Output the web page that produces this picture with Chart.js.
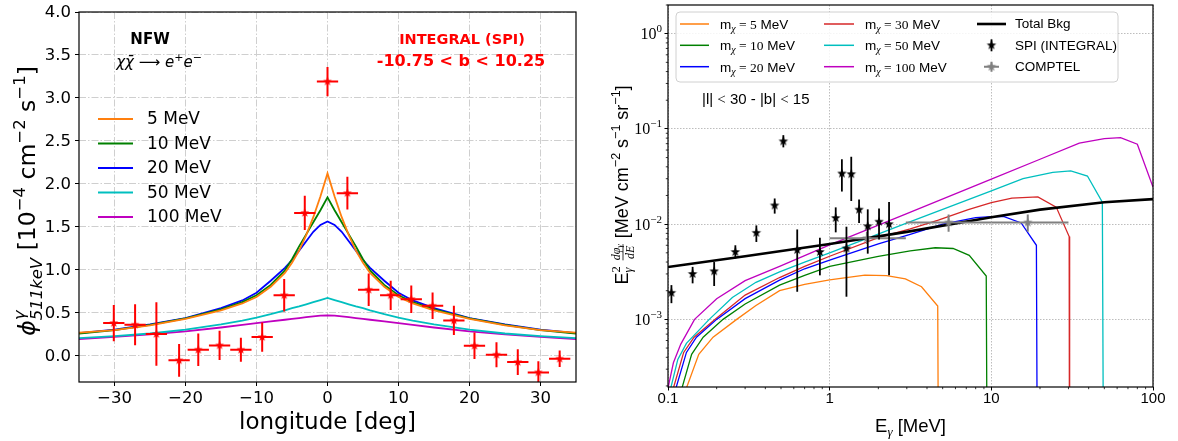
<!DOCTYPE html>
<html>
<head>
<meta charset="utf-8">
<script src="https://cdn.jsdelivr.net/npm/chart.js@4.4.1/dist/chart.umd.min.js"></script>
<style>
html, body { margin: 0; padding: 0; background: #fff; }
#wrap { position: relative; width: 1178px; height: 441px; }
#left { position: absolute; left: 0; top: 0; width: 590px; height: 441px; }
#right { position: absolute; left: 590px; top: 0; width: 588px; height: 441px; }
</style>
</head>
<body>
<div id="wrap">
  <canvas id="left" width="590" height="441"></canvas>
  <canvas id="right" width="588" height="441"></canvas>
</div>
<script>
// ---------- left panel: 511 keV longitude profile ----------
var lon     = [-30.1, -27.1, -24.1, -20.9, -18.2, -15.2, -12.2, -9.2, -6.1, -3.2, 0.0, 2.8, 5.8, 8.9, 11.8, 14.8, 17.8, 20.7, 23.8, 26.8, 29.7, 32.7];
var flux    = [0.376, 0.357, 0.248, -0.058, 0.066, 0.116, 0.066, 0.213, 0.70, 1.66, 3.19, 1.89, 0.764, 0.70, 0.655, 0.578, 0.407, 0.112, 0.008, -0.078, -0.198, -0.039];
var fluxErr = [0.21, 0.24, 0.37, 0.19, 0.19, 0.17, 0.14, 0.17, 0.19, 0.20, 0.17, 0.19, 0.19, 0.17, 0.16, 0.155, 0.17, 0.155, 0.145, 0.15, 0.13, 0.095];
var lonHalfBin = 1.5;

var profLon = [-35, -30, -25, -20, -15, -12, -10, -8, -6, -5, -4, -3, -2, -1, 0, 1, 2, 3, 4, 5, 6, 8, 10, 12, 15, 20, 25, 30, 35];
var prof5   = [0.265, 0.295, 0.35, 0.425, 0.525, 0.605, 0.68, 0.80, 0.96, 1.08, 1.22, 1.40, 1.61, 1.85, 2.12, 1.85, 1.61, 1.40, 1.22, 1.08, 0.96, 0.80, 0.68, 0.605, 0.525, 0.425, 0.35, 0.295, 0.265];
var prof10  = [0.255, 0.295, 0.355, 0.43, 0.535, 0.62, 0.70, 0.82, 0.99, 1.12, 1.27, 1.41, 1.55, 1.69, 1.84, 1.69, 1.55, 1.41, 1.27, 1.12, 0.99, 0.82, 0.70, 0.62, 0.535, 0.43, 0.355, 0.295, 0.255];
var prof20  = [0.26, 0.30, 0.36, 0.435, 0.55, 0.64, 0.73, 0.87, 1.02, 1.11, 1.22, 1.33, 1.44, 1.52, 1.56, 1.52, 1.44, 1.33, 1.22, 1.11, 1.02, 0.87, 0.73, 0.64, 0.55, 0.435, 0.36, 0.30, 0.26];
var prof50  = [0.20, 0.225, 0.255, 0.30, 0.36, 0.405, 0.44, 0.48, 0.525, 0.55, 0.57, 0.595, 0.62, 0.645, 0.67, 0.645, 0.62, 0.595, 0.57, 0.55, 0.525, 0.48, 0.44, 0.405, 0.36, 0.30, 0.255, 0.225, 0.20];
var prof100 = [0.19, 0.215, 0.245, 0.28, 0.325, 0.355, 0.375, 0.395, 0.415, 0.425, 0.435, 0.445, 0.455, 0.462, 0.467, 0.462, 0.455, 0.445, 0.435, 0.425, 0.415, 0.395, 0.375, 0.355, 0.325, 0.28, 0.245, 0.215, 0.19];
var profNames = ['5 MeV', '10 MeV', '20 MeV', '50 MeV', '100 MeV'];

var lonTicks  = [-30, -20, -10, 0, 10, 20, 30];
var fluxTicks = [0, 0.5, 1, 1.5, 2, 2.5, 3, 3.5, 4];

// ---------- right panel: spectrum ----------
var bkgE = [0.1, 0.3, 1, 3, 10, 20, 50, 100];
var bkgF = [3.55e-3, 4.6e-3, 6.2e-3, 8.3e-3, 1.18e-2, 1.42e-2, 1.7e-2, 1.83e-2];

var m5E   = [0.13, 0.155, 0.19, 0.266, 0.35, 0.49, 0.7, 1.0, 1.65, 2.25, 2.94, 3.7, 4.66, 4.75];
var m5F   = [1.9e-4, 4.3e-4, 6.5e-4, 1.0e-3, 1.4e-3, 2.0e-3, 2.33e-3, 2.6e-3, 2.92e-3, 2.88e-3, 2.66e-3, 2.2e-3, 1.38e-3, 1e-6];
var m10E  = [0.122, 0.14, 0.165, 0.219, 0.3, 0.49, 0.7, 1.0, 2.0, 3.15, 4.5, 5.8, 7.3, 9.3, 9.5];
var m10F  = [1.9e-4, 4.3e-4, 6.5e-4, 1.0e-3, 1.45e-3, 2.29e-3, 2.9e-3, 3.6e-3, 4.6e-3, 5.25e-3, 5.65e-3, 5.55e-3, 4.7e-3, 2.85e-3, 1e-6];
var m20E  = [0.112, 0.13, 0.15, 0.2, 0.3, 0.49, 0.7, 1.0, 2.0, 3.15, 5.0, 8.0, 10, 12, 15.3, 19, 19.4];
var m20F  = [1.9e-4, 4.5e-4, 6.5e-4, 1.0e-3, 1.65e-3, 2.58e-3, 3.4e-3, 4.2e-3, 6.2e-3, 7.8e-3, 1.0e-2, 1.17e-2, 1.2e-2, 1.2e-2, 1.03e-2, 6.0e-3, 1e-6];
var m30E  = [0.108, 0.125, 0.145, 0.195, 0.3, 0.49, 0.7, 1.0, 2.0, 3.15, 4.7, 7.2, 10, 13.4, 19.4, 25.2, 30.3, 30.5];
var m30F  = [1.9e-4, 4.5e-4, 6.5e-4, 1.0e-3, 1.8e-3, 2.75e-3, 3.6e-3, 4.6e-3, 7.2e-3, 8.9e-3, 1.1e-2, 1.42e-2, 1.68e-2, 1.88e-2, 1.93e-2, 1.51e-2, 7.4e-3, 1e-6];
var m50E  = [0.104, 0.115, 0.13, 0.18, 0.25, 0.35, 0.49, 0.7, 1.0, 3.1, 10, 15.7, 24, 31, 39.3, 48.6, 49.8];
var m50F  = [1.9e-4, 3.8e-4, 5.6e-4, 1.0e-3, 1.7e-3, 2.45e-3, 3.16e-3, 4.0e-3, 5.0e-3, 1.05e-2, 2.24e-2, 3.0e-2, 3.5e-2, 3.62e-2, 3.2e-2, 1.7e-2, 1e-6];
var m100E = [0.1, 0.108, 0.12, 0.146, 0.2, 0.3, 0.49, 1.0, 3.0, 10, 20, 35, 50, 63, 80, 100];
var m100F = [1.9e-4, 3.5e-4, 5.5e-4, 1.0e-3, 1.65e-3, 2.55e-3, 3.6e-3, 6.05e-3, 1.29e-2, 2.97e-2, 4.8e-2, 7.1e-2, 7.9e-2, 8.1e-2, 6.9e-2, 2.45e-2];

var spiE  = [0.105, 0.142, 0.193, 0.261, 0.352, 0.457, 0.517, 0.63, 0.87, 1.09, 1.19, 1.27, 1.36, 1.52, 1.72, 2.02, 2.33];
var spiF  = [1.9e-3, 3.0e-3, 3.2e-3, 5.1e-3, 8.1e-3, 1.57e-2, 7.4e-2, 5.35e-3, 5.1e-3, 1.16e-2, 3.4e-2, 5.55e-3, 3.35e-2, 1.42e-2, 9.5e-3, 1.06e-2, 1.0e-2];
var spiLo = [1.48e-3, 2.39e-3, 2.24e-3, 4.36e-3, 6.5e-3, 1.29e-2, 6.4e-2, 1.95e-3, 2.9e-3, 8.2e-3, 2.2e-2, 1.73e-3, 1.75e-2, 1.03e-2, 4.9e-3, 6.9e-3, 2.9e-3];
var spiHi = [2.29e-3, 3.56e-3, 4.0e-3, 6.0e-3, 9.7e-3, 1.86e-2, 8.6e-2, 8.8e-3, 7.2e-3, 1.5e-2, 4.8e-2, 9.4e-3, 5.1e-2, 1.82e-2, 1.43e-2, 1.46e-2, 1.71e-2];

var comptelE   = [1.70, 5.44, 16.8];
var comptelELo = [1.0, 2.96, 10];
var comptelEHi = [2.96, 10, 30];
var comptelF   = [7.1e-3, 1.04e-2, 1.04e-2];
var comptelFLo = [6.2e-3, 8.3e-3, 8.3e-3];
var comptelFHi = [8.3e-3, 1.26e-2, 1.26e-2];

var eMajor  = [0.1, 1, 10, 100];
var eLabels = ['0.1', '1', '10', '100'];
var eMinor  = [0.2, 0.3, 0.4, 0.5, 0.6, 0.7, 0.8, 0.9, 2, 3, 4, 5, 6, 7, 8, 9, 20, 30, 40, 50, 60, 70, 80, 90];
var fMajor  = [1e-3, 1e-2, 1e-1, 1];
var fExp    = ['−3', '−2', '−1', '0'];
var fMinor  = [2e-4, 3e-4, 4e-4, 5e-4, 6e-4, 7e-4, 8e-4, 9e-4, 2e-3, 3e-3, 4e-3, 5e-3, 6e-3, 7e-3, 8e-3, 9e-3,
               2e-2, 3e-2, 4e-2, 5e-2, 6e-2, 7e-2, 8e-2, 9e-2, 0.2, 0.3, 0.4, 0.5, 0.6, 0.7, 0.8, 0.9, 2];
var massNames = ['5', '10', '20', '30', '50', '100'];

// ---------- helpers ----------
var SANS = '"DejaVu Sans", sans-serif';
var RSANS = '"Liberation Sans", Arial, sans-serif';
var RSERIF = '"Liberation Serif", "DejaVu Serif", serif';

function font(size, fam, style) {
    return (style ? style + ' ' : '') + size + 'px ' + fam;
}

function pts(xs, ys) {
    return xs.map(function (x, i) { return { x: x, y: ys[i] }; });
}

function starImage(color, r) {
    var c = document.createElement('canvas');
    var s = Math.ceil(r * 2 + 2);
    c.width = s; c.height = s;
    var g = c.getContext('2d');
    g.fillStyle = color;
    g.beginPath();
    for (var i = 0; i < 10; i++) {
        var rr = i % 2 ? r * 0.42 : r;
        var a = -Math.PI / 2 + i * Math.PI / 5;
        g.lineTo(s / 2 + rr * Math.cos(a), s / 2 + rr * Math.sin(a));
    }
    g.closePath();
    g.fill();
    return c;
}

function layoutRich(ctx, segs) {
    var cur = 0, lastStart = 0, pos = [];
    segs.forEach(function (s) {
        var w;
        if (s.frac) {
            w = Math.max(layoutRich(ctx, s.num).width, layoutRich(ctx, s.den).width) + 2;
        } else {
            ctx.font = s.f;
            w = ctx.measureText(s.t).width;
        }
        var start = s.same ? lastStart : cur;
        pos.push(start);
        cur = s.same ? Math.max(cur, start + w) : start + w;
        lastStart = start;
        s._w = w;
    });
    return { pos: pos, width: cur };
}

function drawRich(ctx, segs, x, y, align, color) {
    var L = layoutRich(ctx, segs);
    var x0 = align === 'center' ? x - L.width / 2 : (align === 'right' ? x - L.width : x);
    segs.forEach(function (s, i) {
        var sx = x0 + L.pos[i];
        if (s.frac) {
            var cx = sx + s._w / 2;
            drawRich(ctx, s.num, cx, y + s.numDy, 'center', color);
            drawRich(ctx, s.den, cx, y + s.denDy, 'center', color);
            ctx.strokeStyle = color;
            ctx.lineWidth = 0.8;
            ctx.beginPath();
            ctx.moveTo(sx + 1, y + s.barDy);
            ctx.lineTo(sx + s._w - 1, y + s.barDy);
            ctx.stroke();
        } else {
            ctx.textAlign = 'left';
            ctx.textBaseline = 'alphabetic';
            ctx.font = s.f;
            ctx.fillStyle = s.c || color;
            ctx.fillText(s.t, sx, y + (s.dy || 0));
        }
    });
    return L.width;
}

// error bars, drawn just before the dataset's own markers
var errorBars = {
    id: 'errorBars',
    beforeDatasetDraw: function (chart, args) {
        var ds = chart.data.datasets[args.index];
        if (!ds.err) return;
        var e = ds.err, xs = chart.scales.x, ys = chart.scales.y, ctx = chart.ctx, a = chart.chartArea;
        ctx.save();
        ctx.beginPath();
        ctx.rect(a.left, a.top, a.right - a.left, a.bottom - a.top);
        ctx.clip();
        ctx.strokeStyle = e.color;
        ctx.lineWidth = e.width;
        ds.data.forEach(function (p, i) {
            ctx.beginPath();
            if (e.yLo) {
                var px = xs.getPixelForValue(p.x);
                ctx.moveTo(px, ys.getPixelForValue(e.yLo[i]));
                ctx.lineTo(px, ys.getPixelForValue(e.yHi[i]));
            }
            if (e.xLo) {
                var py = ys.getPixelForValue(p.y);
                ctx.moveTo(xs.getPixelForValue(e.xLo[i]), py);
                ctx.lineTo(xs.getPixelForValue(e.xHi[i]), py);
            }
            ctx.stroke();
        });
        ctx.restore();
    }
};

// ---------- left chart ----------
var profColors = ['#ff7f0e', '#008000', '#0000ff', '#00bfbf', '#bf00bf'];
var profs = [prof5, prof10, prof20, prof50, prof100];

var leftSets = [{
    data: pts(lon, flux),
    showLine: false,
    pointStyle: starImage('#ff0000', 4.6),
    pointRadius: 4,
    err: {
        color: '#ff0000', width: 2,
        yLo: flux.map(function (v, i) { return v - fluxErr[i]; }),
        yHi: flux.map(function (v, i) { return v + fluxErr[i]; }),
        xLo: lon.map(function (v) { return v - lonHalfBin; }),
        xHi: lon.map(function (v) { return v + lonHalfBin; })
    }
}];
profs.forEach(function (p, k) {
    leftSets.push({
        data: pts(profLon, p),
        showLine: true,
        borderColor: profColors[k],
        borderWidth: 1.8,
        pointRadius: 0,
        tension: 0
    });
});

var leftDecor = {
    id: 'leftDecor',
    afterDraw: function (chart) {
        var ctx = chart.ctx, a = chart.chartArea, xs = chart.scales.x, ys = chart.scales.y;
        ctx.save();
        ctx.strokeStyle = '#000';
        ctx.lineWidth = 1.2;
        ctx.strokeRect(a.left, a.top, a.right - a.left, a.bottom - a.top);

        ctx.fillStyle = '#000';
        ctx.font = font(16.5, SANS);
        ctx.textBaseline = 'middle';
        ctx.textAlign = 'center';
        lonTicks.forEach(function (v) {
            ctx.fillText(v < 0 ? '−' + (-v) : String(v), xs.getPixelForValue(v), 399);
        });
        ctx.textAlign = 'right';
        fluxTicks.forEach(function (v) {
            ctx.fillText(v.toFixed(1), a.left - 8, ys.getPixelForValue(v) + 1);
        });

        ctx.textAlign = 'center';
        ctx.font = font(23, SANS);
        ctx.fillText('longitude [deg]', (a.left + a.right) / 2, 423);

        // y title
        ctx.save();
        ctx.translate(35, 201);
        ctx.rotate(-Math.PI / 2);
        var big = 23.5, small = 16.5;
        drawRich(ctx, [
            { t: 'ϕ', f: font(big, SANS, 'italic') },
            { t: 'γ', f: font(small, SANS, 'italic'), dy: -10 },
            { t: '511keV', f: font(small, SANS, 'italic'), dy: 7, same: true },
            { t: ' [10', f: font(big, SANS) },
            { t: '−4', f: font(small, SANS), dy: -10 },
            { t: ' cm', f: font(big, SANS) },
            { t: '−2', f: font(small, SANS), dy: -10 },
            { t: ' s', f: font(big, SANS) },
            { t: '−1', f: font(small, SANS), dy: -10 },
            { t: ']', f: font(big, SANS) }
        ], 0, 0, 'center', '#000');
        ctx.restore();

        // annotations
        ctx.textBaseline = 'middle';
        ctx.textAlign = 'center';
        ctx.fillStyle = '#000';
        ctx.font = font(15, SANS, 'bold');
        ctx.fillText('NFW', 150, 40);
        drawRich(ctx, [
            { t: 'χχ̄', f: font(15, SANS, 'italic') },
            { t: ' ⟶ ', f: font(15, SANS) },
            { t: 'e', f: font(15, SANS, 'italic') },
            { t: '+', f: font(11, SANS), dy: -6 },
            { t: 'e', f: font(15, SANS, 'italic') },
            { t: '−', f: font(11, SANS), dy: -6 }
        ], 159, 67, 'center', '#000');

        ctx.textBaseline = 'middle';
        ctx.textAlign = 'center';
        ctx.fillStyle = '#ff0000';
        ctx.font = font(14.5, SANS, 'bold');
        ctx.fillText('INTEGRAL (SPI)', 462, 40);
        ctx.font = font(16, SANS, 'bold');
        ctx.fillText('-10.75 < b < 10.25', 461, 62);

        // legend
        ctx.font = font(17, SANS);
        ctx.textAlign = 'left';
        ctx.fillStyle = '#000';
        profNames.forEach(function (name, k) {
            var y = 119 + k * 24.5;
            ctx.strokeStyle = profColors[k];
            ctx.lineWidth = 2;
            ctx.beginPath();
            ctx.moveTo(98, y);
            ctx.lineTo(133, y);
            ctx.stroke();
            ctx.fillText(name, 147, y + 1);
        });
        ctx.restore();
    }
};

new Chart(document.getElementById('left'), {
    type: 'scatter',
    data: { datasets: leftSets },
    options: {
        responsive: false,
        animation: false,
        events: [],
        layout: { padding: { left: 0, right: 14, top: 12, bottom: 0 } },
        plugins: { legend: { display: false }, tooltip: { enabled: false } },
        scales: {
            x: {
                type: 'linear', min: -35, max: 35,
                afterBuildTicks: function (s) { s.ticks = lonTicks.map(function (v) { return { value: v }; }); },
                afterFit: function (s) { s.height = 59; },
                ticks: { display: false },
                grid: { color: '#cfcfcf', lineWidth: 1, tickLength: 4, tickColor: '#000', tickWidth: 1 },
                border: { display: false, dash: [7, 2, 1.5, 2] }
            },
            y: {
                type: 'linear', min: -0.31, max: 4.0,
                afterBuildTicks: function (s) { s.ticks = fluxTicks.map(function (v) { return { value: v }; }); },
                afterFit: function (s) { s.width = 79; },
                ticks: { display: false },
                grid: { color: '#cfcfcf', lineWidth: 1, tickLength: 4, tickColor: '#000', tickWidth: 1 },
                border: { display: false, dash: [7, 2, 1.5, 2] }
            }
        }
    },
    plugins: [errorBars, leftDecor]
});

// ---------- right chart ----------
var massColors = ['#ff7f0e', '#008000', '#0000ff', '#d62728', '#00bfbf', '#bf00bf'];
var massE = [m5E, m10E, m20E, m30E, m50E, m100E];
var massF = [m5F, m10F, m20F, m30F, m50F, m100F];

var rightSets = [{
    data: pts(spiE, spiF),
    showLine: false,
    pointStyle: starImage('#000000', 5),
    pointRadius: 4,
    err: { color: '#000', width: 1.8, yLo: spiLo, yHi: spiHi }
}, {
    data: pts(comptelE, comptelF),
    showLine: false,
    pointStyle: starImage('#808080', 5),
    pointRadius: 4,
    err: { color: '#808080', width: 2, yLo: comptelFLo, yHi: comptelFHi, xLo: comptelELo, xHi: comptelEHi }
}, {
    data: pts(bkgE, bkgF),
    showLine: true,
    borderColor: '#000',
    borderWidth: 2.6,
    pointRadius: 0,
    tension: 0
}];
massE.forEach(function (e, k) {
    rightSets.push({
        data: pts(e, massF[k]),
        showLine: true,
        borderColor: massColors[k],
        borderWidth: 1.3,
        pointRadius: 0,
        tension: 0
    });
});

function massLabel(m) {
    return [
        { t: 'm', f: font(13.5, RSANS) },
        { t: 'χ', f: font(10, RSERIF, 'italic'), dy: 3 },
        { t: ' = ' + m, f: font(13.5, RSERIF) },
        { t: ' MeV', f: font(13.5, RSANS) }
    ];
}

var rightDecor = {
    id: 'rightDecor',
    afterDraw: function (chart) {
        var ctx = chart.ctx, a = chart.chartArea, xs = chart.scales.x, ys = chart.scales.y;
        ctx.save();

        // minor ticks
        ctx.strokeStyle = '#000';
        ctx.lineWidth = 0.8;
        ctx.beginPath();
        eMinor.forEach(function (v) {
            var px = xs.getPixelForValue(v);
            ctx.moveTo(px, a.bottom);
            ctx.lineTo(px, a.bottom + 2.2);
        });
        fMinor.forEach(function (v) {
            var py = ys.getPixelForValue(v);
            ctx.moveTo(a.left, py);
            ctx.lineTo(a.left - 2.2, py);
        });
        ctx.stroke();

        ctx.lineWidth = 1.2;
        ctx.strokeRect(a.left, a.top, a.right - a.left, a.bottom - a.top);

        // tick labels
        ctx.fillStyle = '#000';
        ctx.font = font(15, RSANS);
        ctx.textAlign = 'center';
        ctx.textBaseline = 'middle';
        eMajor.forEach(function (v, i) {
            ctx.fillText(eLabels[i], xs.getPixelForValue(v), 399);
        });
        fMajor.forEach(function (v, i) {
            drawRich(ctx, [
                { t: '10', f: font(16, RSERIF) },
                { t: fExp[i], f: font(11, RSERIF), dy: -7 }
            ], a.left - 6, ys.getPixelForValue(v) + 5.5, 'right', '#000');
        });

        // axis titles
        drawRich(ctx, [
            { t: 'E', f: font(18.5, RSANS) },
            { t: 'γ', f: font(13, RSERIF, 'italic'), dy: 4 },
            { t: ' [MeV]', f: font(18.5, RSANS) }
        ], (a.left + a.right) / 2, 432, 'center', '#000');

        ctx.save();
        ctx.translate(38, 185);
        ctx.rotate(-Math.PI / 2);
        var T = 18, S = 12.5;
        drawRich(ctx, [
            { t: 'E', f: font(T, RSANS) },
            { t: '2', f: font(S, RSERIF), dy: -8 },
            { t: 'γ', f: font(S, RSERIF, 'italic'), dy: 4, same: true },
            { t: ' ', f: font(T, RSANS) },
            { frac: true, numDy: -8, denDy: 6, barDy: -5,
              num: [{ t: 'dφ', f: font(12, RSERIF, 'italic') }, { t: 'γ', f: font(9, RSERIF, 'italic'), dy: 2 }],
              den: [{ t: 'dE', f: font(12, RSERIF, 'italic') }] },
            { t: ' [MeV cm', f: font(T, RSANS) },
            { t: '−2', f: font(S, RSANS), dy: -8 },
            { t: ' s', f: font(T, RSANS) },
            { t: '−1', f: font(S, RSANS), dy: -8 },
            { t: ' sr', f: font(T, RSANS) },
            { t: '−1', f: font(S, RSANS), dy: -8 },
            { t: ']', f: font(T, RSANS) }
        ], 0, 0, 'center', '#000');
        ctx.restore();

        // region label
        drawRich(ctx, [
            { t: '|l| ', f: font(15, RSANS) },
            { t: '<', f: font(15, RSERIF) },
            { t: ' 30 - |b| ', f: font(15, RSANS) },
            { t: '<', f: font(15, RSERIF) },
            { t: ' 15', f: font(15, RSANS) }
        ], 112, 104, 'left', '#000');

        // legend
        var bx = 86, by = 12, bw = 442, bh = 70;
        ctx.fillStyle = 'rgba(255,255,255,0.85)';
        ctx.strokeStyle = '#d0d0d0';
        ctx.lineWidth = 1;
        ctx.beginPath();
        ctx.roundRect(bx, by, bw, bh, 4);
        ctx.fill();
        ctx.stroke();

        var rows = [24, 45.3, 66.7];
        var cols = [[90, 119, 130], [234, 264, 275]];
        massNames.forEach(function (m, k) {
            var c = cols[Math.floor(k / 3)], y = rows[k % 3];
            ctx.strokeStyle = massColors[k];
            ctx.lineWidth = 1.5;
            ctx.beginPath();
            ctx.moveTo(c[0], y);
            ctx.lineTo(c[1], y);
            ctx.stroke();
            drawRich(ctx, massLabel(m), c[2], y + 5, 'left', '#000');
        });

        // third column
        ctx.strokeStyle = '#000';
        ctx.lineWidth = 2.6;
        ctx.beginPath();
        ctx.moveTo(387, rows[0]);
        ctx.lineTo(416, rows[0]);
        ctx.stroke();

        ctx.lineWidth = 1.8;
        ctx.beginPath();
        ctx.moveTo(401.5, rows[1] - 6);
        ctx.lineTo(401.5, rows[1] + 6);
        ctx.stroke();
        var bs = starImage('#000000', 5);
        ctx.drawImage(bs, 401.5 - bs.width / 2, rows[1] - bs.height / 2);

        ctx.strokeStyle = '#808080';
        ctx.lineWidth = 2;
        ctx.beginPath();
        ctx.moveTo(394, rows[2]);
        ctx.lineTo(409, rows[2]);
        ctx.moveTo(401.5, rows[2] - 5);
        ctx.lineTo(401.5, rows[2] + 5);
        ctx.stroke();
        var gs = starImage('#808080', 5);
        ctx.drawImage(gs, 401.5 - gs.width / 2, rows[2] - gs.height / 2);

        ctx.fillStyle = '#000';
        ctx.font = font(13.5, RSANS);
        ctx.textAlign = 'left';
        ctx.textBaseline = 'middle';
        ctx.fillText('Total Bkg', 425, rows[0] + 0.5);
        ctx.fillText('SPI (INTEGRAL)', 425, rows[1] + 0.5);
        ctx.fillText('COMPTEL', 425, rows[2] + 0.5);

        ctx.restore();
    }
};

new Chart(document.getElementById('right'), {
    type: 'scatter',
    data: { datasets: rightSets },
    options: {
        responsive: false,
        animation: false,
        events: [],
        layout: { padding: { left: 0, right: 25, top: 4, bottom: 0 } },
        plugins: { legend: { display: false }, tooltip: { enabled: false } },
        scales: {
            x: {
                type: 'logarithmic', min: 0.1, max: 100,
                afterBuildTicks: function (s) { s.ticks = eMajor.map(function (v) { return { value: v }; }); },
                afterFit: function (s) { s.height = 54; },
                ticks: { display: false },
                grid: { color: '#bdbdbd', lineWidth: 1, tickLength: 3.5, tickColor: '#000', tickWidth: 1 },
                border: { display: false, dash: [1.5, 1.5] }
            },
            y: {
                type: 'logarithmic', min: 1.95e-4, max: 2.0,
                afterBuildTicks: function (s) { s.ticks = fMajor.map(function (v) { return { value: v }; }); },
                afterFit: function (s) { s.width = 78; },
                ticks: { display: false },
                grid: { color: '#bdbdbd', lineWidth: 1, tickLength: 3.5, tickColor: '#000', tickWidth: 1 },
                border: { display: false, dash: [1.5, 1.5] }
            }
        }
    },
    plugins: [errorBars, rightDecor]
});
</script>
</body>
</html>
